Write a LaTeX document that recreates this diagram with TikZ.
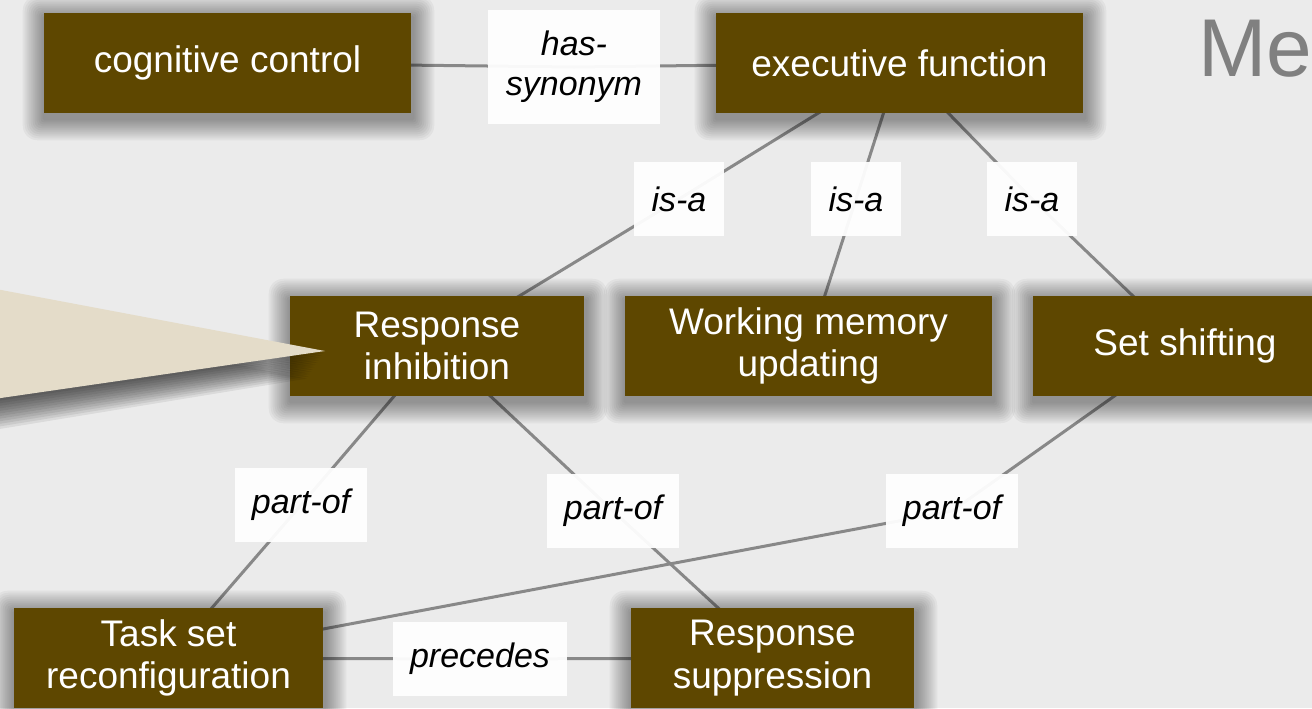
\documentclass[tikz,border=0pt]{standalone}
\usepackage{fontspec}
\setmainfont{Liberation Sans}
\pgfdeclarelayer{background}
\pgfdeclarelayer{shadow}
\pgfsetlayers{background,shadow,main}
\definecolor{conceptbrown}{RGB}{94,71,0}
\definecolor{calloutbeige}{RGB}{228,220,201}
\definecolor{pagegrey}{RGB}{235,235,235}
\definecolor{linkgrey}{RGB}{136,136,136}
\definecolor{titlegrey}{RGB}{128,128,128}
\tikzset{
  concept/.style={fill=conceptbrown, text=white, inner sep=0pt, minimum height=75pt,
    align=center, font=\fontsize{27.75}{32}\selectfont},
  relation/.style={fill=white, fill opacity=0.94, text opacity=1, inner sep=0pt, minimum height=55.5pt,
    align=center, font=\fontsize{25.5}{30}\selectfont\itshape},
  link/.style={draw=linkgrey, line width=2.25pt},
  softshadow/.style={fill=black, opacity=0.04},
}
\begin{document}
\begin{tikzpicture}[x=0.75pt,y=0.75pt,yscale=-1]
\useasboundingbox (0,0) rectangle (1312,708);

% Concept Nodes
\node [concept, minimum width=275.25pt] (cogctrl) at (227.5,63) {cognitive control};
\node [concept, minimum width=275.25pt] (execfn) at (899.5,63) {executive function};
\node [concept, minimum width=220.5pt] (respinh) at (437,346) {Response\\inhibition};
\node [concept, minimum width=275.25pt] (wmupd) at (808.5,346) {Working memory\\updating};
\node [concept, minimum width=228pt] (setshift) at (1185,346) {Set shifting};
\node [concept, minimum width=231.75pt] (taskset) at (168.5,658) {Task set\\reconfiguration};
\node [concept, minimum width=212.25pt] (respsup) at (772.5,658) {Response\\suppression};

% Relation Nodes
\node [relation, minimum width=129pt, minimum height=85.5pt] (hassyn) at (574,67) {has-\\synonym};
\node [relation, minimum width=67.5pt] (isa1) at (679,199) {is-a};
\node [relation, minimum width=67.5pt] (isa2) at (856,199) {is-a};
\node [relation, minimum width=67.5pt] (isa3) at (1032,199) {is-a};
\node [relation, minimum width=99pt] (partof1) at (301,505) {part-of};
\node [relation, minimum width=99pt] (partof2) at (613,511) {part-of};
\node [relation, minimum width=99pt] (partof3) at (952,511) {part-of};
\node [relation, minimum width=130.5pt] (prec) at (480,659) {precedes};

% Callout with its shadow
\foreach \k in {1,...,12}
  \fill [softshadow, opacity=0.07] (-20,{286+2.3*\k}) -- ({325-1.5*\k},{351+2.3*\k}) -- (-20,{401+2.6*\k}) -- cycle ;
\fill [calloutbeige] (-20,286) -- (325,351) -- (-20,401) -- cycle ;

% Title Text
\node [anchor=base west, inner sep=0pt, text=titlegrey, font=\fontsize{61.5}{70}\selectfont] (metitle) at (1198,76) {Me};

% Box shadows
\begin{pgfonlayer}{shadow}
\foreach \nd in {cogctrl,execfn,respinh,wmupd,setshift,taskset,respsup}
  \foreach \k in {1,...,11}
    \fill [softshadow, rounded corners=\k] ([shift={({1-2*\k},{5-2*\k})}]\nd.north west) rectangle ([shift={({1+2*\k},{5+2*\k})}]\nd.south east);
\end{pgfonlayer}

% Links
\begin{pgfonlayer}{background}
\fill [pagegrey] (0,0) rectangle (1312,708);
\draw [link] (cogctrl.center) -- (hassyn.center) -- (execfn.center);
\draw [link] (execfn.center) -- (isa1.center) -- (respinh.center);
\draw [link] (execfn.center) -- (isa2.center) -- (wmupd.center);
\draw [link] (execfn.center) -- (isa3.center) -- (setshift.center);
\draw [link] (respinh.center) -- (partof1.center) -- (taskset.center);
\draw [link] (respinh.center) -- (partof2.center) -- (respsup.center);
\draw [link] (setshift.center) -- (partof3.center) -- (taskset.center);
\draw [link] (taskset.center) -- (prec.center) -- (respsup.center);
\end{pgfonlayer}

\end{tikzpicture}
\end{document}
